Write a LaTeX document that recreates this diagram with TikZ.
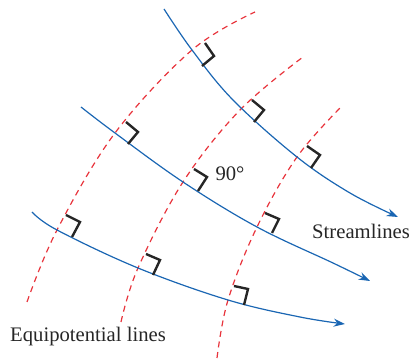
\documentclass[tikz,border=0pt]{standalone}
\usepackage{fontspec}
\setmainfont{Liberation Serif}
\usepackage{tikz}
\usetikzlibrary{arrows.meta}
\definecolor{streamblue}{HTML}{1A66B3}
\definecolor{potred}{HTML}{E8343C}
\tikzset{
  streamline/.style={-{Stealth[length=8.5pt,width=6pt]},streamblue,line width=0.9pt},
  equipot/.style={potred,line width=0.9pt,dash pattern=on 4.5pt off 3.5pt},
  rightmark/.style={black!85,line width=1.8pt,line join=miter},
  flowlabel/.style={font=\fontsize{15.5}{18}\selectfont,text=black!85,inner sep=0pt}
}
\begin{document}
\begin{tikzpicture}[x=0.75pt,y=-0.75pt]
\useasboundingbox (0,0) rectangle (412,363);
% equipotential lines
\draw[equipot] plot[smooth,tension=0.6] coordinates {(27,302) (57,230) (115,133) (192,50) (255,12)};
\draw[equipot] plot[smooth,tension=0.6] coordinates {(121,322) (138,268) (183,182) (240,110) (303,57)};
\draw[equipot] plot[smooth,tension=0.6] coordinates {(217,358) (228,300) (257,227) (297,157) (342,106)};
% streamlines
\draw[streamline] plot[smooth,tension=0.6] coordinates {(164,9) (192,50) (233,100) (297,157) (350,193) (398,217)};
\draw[streamline] plot[smooth,tension=0.6] coordinates {(81,107) (115,133) (183,182) (257,227) (333,263) (370,281)};
\draw[streamline] plot[smooth,tension=0.6] coordinates {(32,212) (57,230) (138,268) (228,300) (300,317) (345,324)};
% right angles
\foreach \p/\q/\r in {{202,66}/{214,56}/{205,43},{254,122}/{264,110}/{252,100},{311,168}/{320,155}/{307,146},
                      {128,144}/{138,132}/{126,122},{198,191}/{207,177}/{194,169},{272,233}/{279,219}/{265,213},
                      {72,237}/{80,222}/{66,215},{153,275}/{160,260}/{146,254},{244,305}/{248,289}/{234,286}}
  \draw[rightmark] (\p) -- (\q) -- (\r);
% labels
\node[flowlabel] (angle) at (230,174) {90°};
\node[flowlabel] (stream) at (361,231) {Streamlines};
\node[flowlabel] (equi) at (88,337) {Equipotential lines};
\end{tikzpicture}
\end{document}
